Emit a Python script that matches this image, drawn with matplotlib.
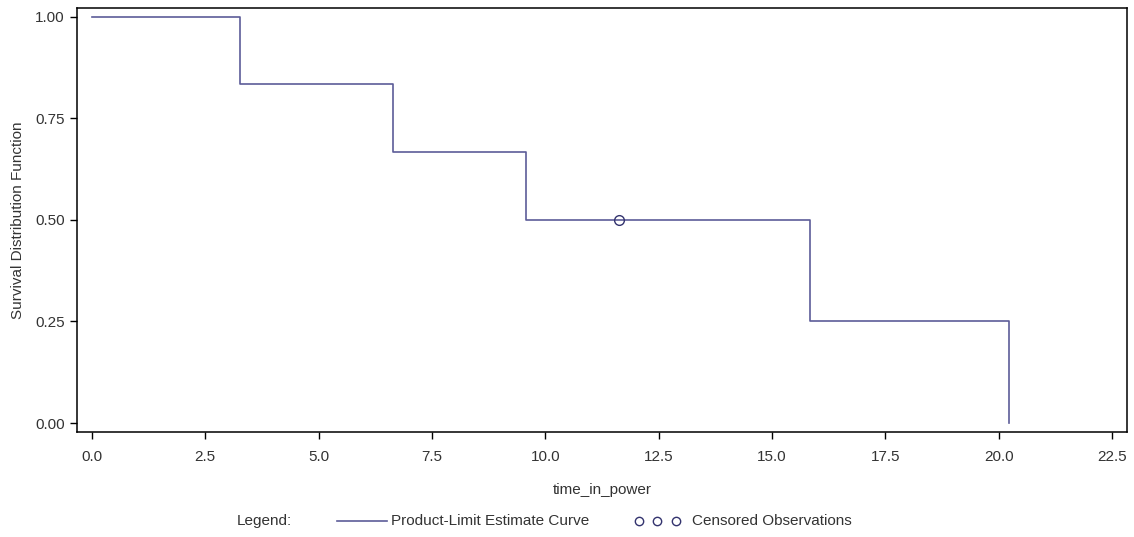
import matplotlib
matplotlib.use("Agg")
import matplotlib.pyplot as plt
from matplotlib.lines import Line2D

plt.rcParams['font.family'] = ['Liberation Sans', 'DejaVu Sans']

# Kaplan-Meier step estimate
event_times = [0.0, 3.26, 6.64, 9.57, 15.84, 20.23]
survival = [1.0, 0.8333, 0.6667, 0.5, 0.25, 0.0]
censored_times = [11.63]
censored_surv = [0.5]

xticks = [0.0, 2.5, 5.0, 7.5, 10.0, 12.5, 15.0, 17.5, 20.0, 22.5]
yticks = [0.00, 0.25, 0.50, 0.75, 1.00]

line_col = '#5c5c98'
mark_col = '#33336e'
txt_col = '#333333'
fs = 11

fig = plt.figure(figsize=(11.34, 5.37), dpi=100)
W, H = 1134, 537
ax = fig.add_axes([77 / W, 1 - 432 / H, (1127 - 77) / W, (432 - 8) / H])

ax.step(event_times, survival, where='post', color=line_col, lw=1.2)
ax.plot(censored_times, censored_surv, 'o', mfc='none', mec=mark_col, ms=7, mew=1.0)

ax.set_xlim(-0.33, 22.83)
ax.set_ylim(-0.022, 1.021)
ax.set_xticks(xticks)
ax.set_xticklabels(['%.1f' % v for v in xticks])
ax.set_yticks(yticks)
ax.set_yticklabels(['%.2f' % v for v in yticks])
ax.tick_params(direction='out', length=5, width=1, colors='black',
               labelsize=fs, labelcolor=txt_col)
ax.tick_params(axis='x', pad=8)
ax.tick_params(axis='y', pad=4)
for s in ax.spines.values():
    s.set_linewidth(1.1)

fig.text(18 / W, 1 - 220 / H, 'Survival Distribution Function', rotation=90,
         ha='center', va='center', fontsize=fs, color=txt_col)
fig.text(602 / W, 1 - 490 / H, 'time_in_power', ha='center', va='center',
         fontsize=fs, color=txt_col)

# legend row
ly = 1 - 521 / H
fig.text(237 / W, ly, 'Legend:', ha='left', va='center', fontsize=fs, color=txt_col)
fig.add_artist(Line2D([337 / W, 387 / W], [ly, ly], color=line_col, lw=1.2))
fig.text(391 / W, ly, 'Product-Limit Estimate Curve', ha='left', va='center',
         fontsize=fs, color=txt_col)
for cx in [639, 657, 676]:
    fig.add_artist(Line2D([cx / W], [ly], marker='o', mfc='none', mec=mark_col,
                          ms=6, mew=1.0, ls='none'))
fig.text(692 / W, ly, 'Censored Observations', ha='left', va='center',
         fontsize=fs, color=txt_col)

fig.savefig('out.png', dpi=100)
